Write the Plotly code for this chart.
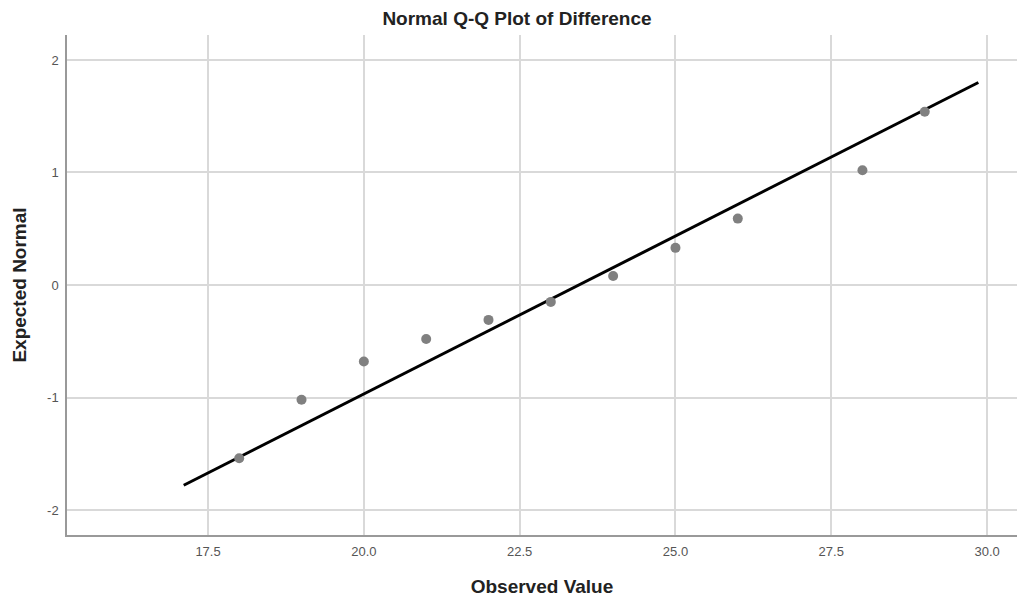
import plotly.graph_objects as go

observed = [18, 19, 20, 21, 22, 23, 24, 25, 26, 28, 29]
expected = [-1.54, -1.02, -0.68, -0.48, -0.31, -0.15, 0.08, 0.33, 0.59, 1.02, 1.54]
line_x = [17.11, 29.86]
line_y = [-1.78, 1.80]
x_ticks = [17.5, 20.0, 22.5, 25.0, 27.5, 30.0]
x_tick_labels = ["17.5", "20.0", "22.5", "25.0", "27.5", "30.0"]
y_ticks = [-2, -1, 0, 1, 2]
y_tick_labels = ["-2", "-1", "0", "1", "2"]

fig = go.Figure()
fig.add_trace(go.Scatter(x=line_x, y=line_y, mode="lines",
                         line=dict(color="black", width=3), hoverinfo="skip"))
fig.add_trace(go.Scatter(x=observed, y=expected, mode="markers",
                         marker=dict(color="#808080", size=10)))

font = "Liberation Sans, Arial, sans-serif"
fig.update_layout(
    width=1018, height=589,
    margin=dict(l=59, r=9, t=27, b=62, autoexpand=False),
    paper_bgcolor="white", plot_bgcolor="white",
    showlegend=False,
    font=dict(family=font, color="#555"),
    title=dict(text="<b>Normal Q-Q Plot of Difference</b>", x=0.5, xanchor="center",
               xref="container", y=0.983, yanchor="middle",
               font=dict(size=19, color="#222", family=font)),
)
fig.update_xaxes(
    range=[15.237, 30.48], tickvals=x_ticks, ticktext=x_tick_labels,
    showgrid=True, gridcolor="#d9d9d9", gridwidth=1.5, automargin=False,
    showline=True, linecolor="#999", linewidth=1.5, zeroline=False,
    ticks="", tickfont=dict(size=13, color="#555"), ticklabelstandoff=4,
    title=dict(text="<b>Observed Value</b>", font=dict(size=19, color="#222"), standoff=23),
)
fig.update_yaxes(
    range=[-2.222, 2.222], tickvals=y_ticks, ticktext=y_tick_labels,
    showgrid=True, gridcolor="#d9d9d9", gridwidth=1.5, automargin=False,
    showline=True, linecolor="#999", linewidth=1.5, zeroline=False,
    ticks="", tickfont=dict(size=13, color="#555"), ticklabelstandoff=4,
    title=dict(text="<b>Expected Normal</b>", font=dict(size=19, color="#222"), standoff=15),
)
fig.write_html("out.html")
